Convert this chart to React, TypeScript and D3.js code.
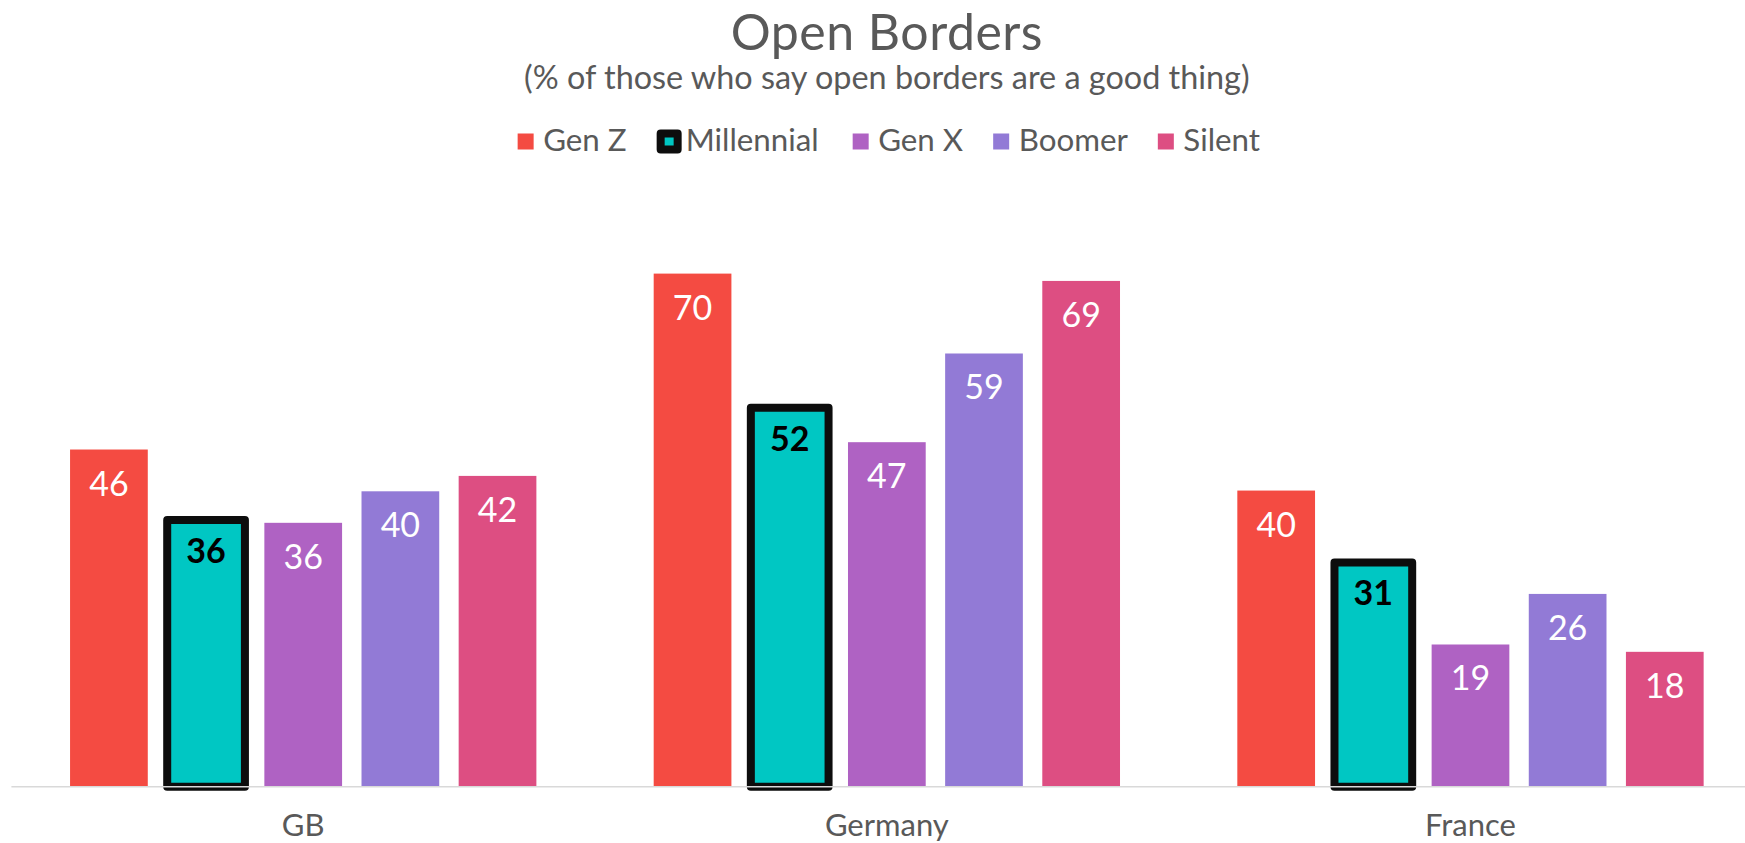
import * as d3 from 'd3';
import React, { useEffect, useRef } from 'react';

const categories = ['GB', 'Germany', 'France'];
const series = ['Gen Z', 'Millennial', 'Gen X', 'Boomer', 'Silent'];
const colors = ['#F44B42', '#00C7C3', '#AF62C3', '#927AD6', '#DD4E82'];

// values per series, in category order (labels are rounded)
const genZ = [46, 70, 40.4];
const millennial = [36.4, 51.7, 30.6];
const genX = [36, 47, 19.4];
const boomer = [40.3, 59.1, 26.3];
const silent = [42.4, 69, 18.4];
const values = [genZ, millennial, genX, boomer, silent];

const highlighted = 'Millennial';

const W = 1745;
const H = 843;
const FONT = 'Lato, "Open Sans", sans-serif';
const GRAY = '#595959';

const App: React.FC = () => {
  const svgRef = useRef<SVGSVGElement>(null);

  useEffect(() => {
    const svg = d3.select(svgRef.current);
    svg.selectAll('*').remove();

    const x = d3.scaleBand().domain(categories).range([11.4, 1762.3]);
    const groupW = x.bandwidth() * 0.799;
    const xi = d3
      .scaleBand()
      .domain(series)
      .range([(x.bandwidth() - groupW) / 2, (x.bandwidth() + groupW) / 2])
      .paddingInner(0.2);

    const y = d3.scaleLinear().domain([0, 80]).range([786.7, 200.3]);
    const centerX = (x.range()[0] + x.range()[1]) / 2;

    // title
    svg
      .append('text')
      .attr('x', centerX)
      .attr('y', 50)
      .attr('text-anchor', 'middle')
      .attr('font-family', FONT)
      .attr('font-size', 50)
      .attr('letter-spacing', 0.5)
      .attr('fill', GRAY)
      .text('Open Borders');

    svg
      .append('text')
      .attr('x', centerX)
      .attr('y', 89)
      .attr('text-anchor', 'middle')
      .attr('font-family', FONT)
      .attr('font-size', 32.4)
      .attr('fill', GRAY)
      .text('(% of those who say open borders are a good thing)');

    // legend
    const legend = svg.append('g');
    let cx = 0;
    series.forEach((s, i) => {
      const g = legend.append('g').attr('transform', `translate(${cx},0)`);
      if (s === highlighted) {
        g.append('rect')
          .attr('x', 4)
          .attr('y', 133.5)
          .attr('width', 17)
          .attr('height', 16)
          .attr('fill', colors[i])
          .attr('stroke', '#0D0D0D')
          .attr('stroke-width', 8)
          .attr('stroke-linejoin', 'round');
      } else {
        g.append('rect')
          .attr('x', 0)
          .attr('y', 133.5)
          .attr('width', 16)
          .attr('height', 16)
          .attr('fill', colors[i]);
      }
      const tx = s === highlighted ? 29 : 25.5;
      const t = g
        .append('text')
        .attr('x', tx)
        .attr('y', 150.5)
        .attr('font-family', FONT)
        .attr('font-size', 31.3)
        .attr('fill', GRAY)
        .text(s);
      const tw = (t.node() as SVGTextElement).getComputedTextLength();
      cx += tx + tw + (s === highlighted ? 34 : 30);
    });
    const legendW = cx - 30;
    legend.attr('transform', `translate(${centerX - legendW / 2 + 2},0)`);

    // bars
    const groups = svg
      .append('g')
      .selectAll('g')
      .data(categories)
      .join('g')
      .attr('transform', (c) => `translate(${x(c)},0)`);

    series.forEach((s, si) => {
      const isHi = s === highlighted;
      groups
        .append('rect')
        .attr('x', xi(s)!)
        .attr('width', xi.bandwidth())
        .attr('y', (_, ci) => y(values[si][ci]))
        .attr('height', (_, ci) => y(0) - y(values[si][ci]))
        .attr('fill', colors[si])
        .attr('stroke', isHi ? '#0D0D0D' : 'none')
        .attr('stroke-width', isHi ? 8 : 0)
        .attr('stroke-linejoin', 'round');

      groups
        .append('text')
        .attr('x', xi(s)! + xi.bandwidth() / 2)
        .attr('y', (_, ci) => y(values[si][ci]) + (isHi ? 43 : 46))
        .attr('text-anchor', 'middle')
        .attr('font-family', FONT)
        .attr('font-size', 34)
        .attr('font-weight', isHi ? 'bold' : 'normal')
        .attr('fill', isHi ? '#000' : '#fff')
        .text((_, ci) => d3.format('.0f')(values[si][ci]));
    });

    // axis line
    svg
      .append('line')
      .attr('x1', x.range()[0])
      .attr('x2', x.range()[1])
      .attr('y1', y(0))
      .attr('y2', y(0))
      .attr('stroke', '#D9D9D9')
      .attr('stroke-width', 1.5);

    // category labels
    svg
      .append('g')
      .selectAll('text')
      .data(categories)
      .join('text')
      .attr('x', (c) => x(c)! + x.bandwidth() / 2)
      .attr('y', 836)
      .attr('text-anchor', 'middle')
      .attr('font-family', FONT)
      .attr('font-size', 31)
      .attr('fill', GRAY)
      .text((c) => c);
  }, []);

  return (
    <svg
      ref={svgRef}
      width={W}
      height={H}
      style={{ position: 'absolute', left: 0, top: 0, background: '#fff' }}
    />
  );
};

export default App;
